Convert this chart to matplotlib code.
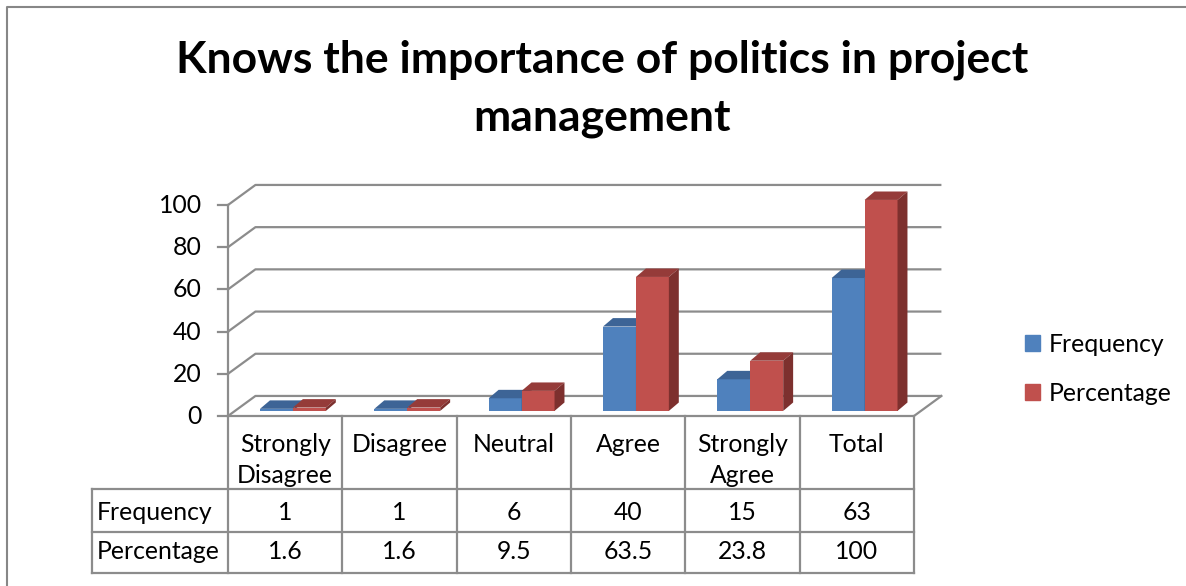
import matplotlib
matplotlib.use('Agg')
import matplotlib.pyplot as plt
from matplotlib.patches import Polygon, Patch
from matplotlib.lines import Line2D

# data
categories = ['Strongly\nDisagree', 'Disagree', 'Neutral', 'Agree', 'Strongly\nAgree', 'Total']
frequency = [1, 1, 6, 40, 15, 63]
percentage = [1.6, 1.6, 9.5, 63.5, 23.8, 100]
series_names = ['Frequency', 'Percentage']
yticks = [0, 20, 40, 60, 80, 100]

plt.rcParams['font.family'] = ['Lato', 'DejaVu Sans']

W, H, DPI = 1186, 586, 100
FS = 17.8
GRID = '#8c8c8c'
FRONT = ['#4f81bd', '#c0504d']
TOP = ['#3d6496', '#953b39']
SIDE = ['#385d8a', '#7d302e']

# depth of the fake 3d box and of the bars (data units)
DX, DY = 0.24, 9.5
BDX, BDY = 0.087, 4.0
BASE = 2.4
BW = 0.288
OFFS = [0.28, 0.568]


def px_box(x0, y0, x1, y1):
    return [x0 / W, 1 - y1 / H, (x1 - x0) / W, (y1 - y0) / H]


fig = plt.figure(figsize=(W / DPI, H / DPI), dpi=DPI)

# chart border (left and top only)
fig.add_artist(Line2D([7 / W, 7 / W, 1], [0, 1 - 6.5 / H, 1 - 6.5 / H],
                      transform=fig.transFigure, color='#878787', lw=1.5))

fig.text(602.5 / W, 1 - 72 / H, 'Knows the importance of politics in project',
         ha='center', va='baseline', fontsize=32, fontweight='bold')
fig.text(602.5 / W, 1 - 130 / H, 'management',
         ha='center', va='baseline', fontsize=32, fontweight='bold')

# plot area: x in category units, y in value units
ax = fig.add_axes(px_box(228, 416 - 112 * 2.11, 228 + 6.3 * 114.33, 416))
ax.set_xlim(0, 6.3)
ax.set_ylim(0, 112)
ax.axis('off')

n = len(categories)
for v in yticks:
    ax.plot([0, DX, n + DX], [v, v + DY, v + DY], color=GRID, lw=1.6,
            clip_on=False, zorder=1, solid_capstyle='butt')
    ax.plot([-0.085, 0], [v, v], color=GRID, lw=1.6, clip_on=False, zorder=1)
    ax.text(-0.23, v - 3.8, str(v), ha='right', va='baseline', fontsize=FS)
ax.plot([0, n, n + DX], [0, 0, DY], color=GRID, lw=1.6, clip_on=False, zorder=1)
ax.plot([0, 0], [0, yticks[-1]], color=GRID, lw=1.6, clip_on=False, zorder=1)

z = 2
for i in range(n):
    for s, vals in enumerate([frequency, percentage]):
        v = vals[i]
        L = i + OFFS[s]
        ax.bar(L, v, width=BW, bottom=BASE, align='edge', color=FRONT[s],
               lw=0, zorder=z)
        top = BASE + v
        ax.add_patch(Polygon([(L, top), (L + BDX, top + BDY),
                              (L + BW + BDX, top + BDY), (L + BW, top)],
                             closed=True, fc=TOP[s], lw=0, zorder=z))
        ax.add_patch(Polygon([(L + BW, BASE), (L + BW + BDX, BASE + BDY),
                              (L + BW + BDX, top + BDY), (L + BW, top)],
                             closed=True, fc=SIDE[s], lw=0, zorder=z))
        z += 1

# data table below the chart
tax = fig.add_axes(px_box(92, 416, 914, 573))
x_left = (92 - 228) / 114.33
tax.set_xlim(x_left, n)
tax.set_ylim(157, 0)
tax.axis('off')

for k in range(n + 1):
    tax.plot([k, k], [0, 157], color=GRID, lw=1.6, clip_on=False)
tax.plot([x_left, x_left], [73, 157], color=GRID, lw=1.6, clip_on=False)
for yy in [73, 116, 157]:
    tax.plot([x_left, n], [yy, yy], color=GRID, lw=1.6, clip_on=False)

for i, lab in enumerate(categories):
    for j, line in enumerate(lab.split('\n')):
        tax.text(i + 0.5, 36 + 31 * j, line, ha='center', va='baseline', fontsize=FS)

row_base = [104.5, 143]
for r, (name, vals) in enumerate(zip(series_names, [frequency, percentage])):
    tax.text(x_left + 0.045, row_base[r], name, ha='left', va='baseline', fontsize=FS)
    for i, v in enumerate(vals):
        tax.text(i + 0.5, row_base[r], f'{v:g}', ha='center', va='baseline', fontsize=FS)

handles = [Patch(color=c) for c in FRONT]
fig.legend(handles, series_names, loc='center left',
           bbox_to_anchor=(1025 / W, 1 - 369 / H), frameon=False, fontsize=FS,
           handlelength=0.6, handleheight=0.6, handletextpad=0.35,
           labelspacing=1.05, borderpad=0, borderaxespad=0)

fig.savefig('out.png', dpi=DPI)
